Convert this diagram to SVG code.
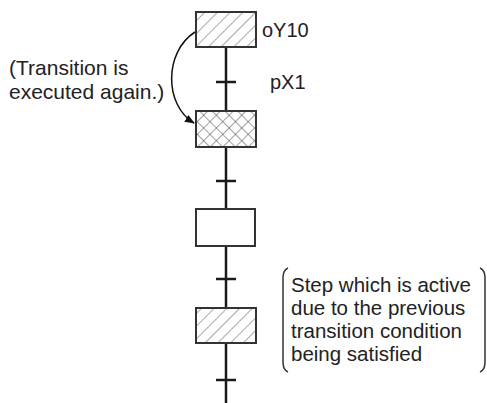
<svg xmlns="http://www.w3.org/2000/svg" width="487" height="403" viewBox="0 0 487 403">
<style>
.step{stroke:#333;stroke-width:2;}
.ln{stroke:#1a1a1a;stroke-width:2.5;fill:none;}
.t{font-family:"Liberation Sans",Arial,sans-serif;font-size:20px;fill:#222;}
.br{stroke:#333;stroke-width:1.5;fill:none;}
</style>
<defs>
<pattern id="hatch" patternUnits="userSpaceOnUse" width="9" height="9" patternTransform="rotate(45)">
<rect width="9" height="9" fill="#fff"/>
<line x1="0" y1="0" x2="0" y2="9" stroke="#555" stroke-width="1"/>
</pattern>
<pattern id="cross" patternUnits="userSpaceOnUse" width="9" height="9" patternTransform="rotate(45)">
<rect width="9" height="9" fill="#fff"/>
<line x1="0" y1="0" x2="0" y2="9" stroke="#444" stroke-width="1"/>
<line x1="0" y1="0" x2="9" y2="0" stroke="#444" stroke-width="1"/>
</pattern>
<marker id="ah" markerWidth="10" markerHeight="10" refX="9" refY="5" orient="auto" markerUnits="userSpaceOnUse">
<path d="M0,1 L10,5 L0,9 Z" fill="#111"/>
</marker>
</defs>
<g id="connectors">
<line class="ln" x1="226" y1="47" x2="226" y2="111"/>
<line class="ln" x1="226" y1="147" x2="226" y2="209"/>
<line class="ln" x1="226" y1="246" x2="226" y2="308"/>
<line class="ln" x1="226" y1="343" x2="226" y2="403"/>
<line class="ln" x1="216" y1="82" x2="236" y2="82"/>
<line class="ln" x1="216" y1="181" x2="236" y2="181"/>
<line class="ln" x1="216" y1="279" x2="236" y2="279"/>
<line class="ln" x1="216" y1="380" x2="236" y2="380"/>
<path d="M195,32 C164,52 164,105 194,123" stroke="#111" stroke-width="1.5" fill="none" marker-end="url(#ah)"/>
</g>
<g id="step1"><rect class="step" x="196" y="12" width="60" height="35" fill="url(#hatch)"/></g>
<g id="step2"><rect class="step" x="196" y="111" width="60" height="36" fill="url(#cross)"/></g>
<g id="step3"><rect class="step" x="196" y="209" width="59" height="37" fill="#fff" stroke="#444"/></g>
<g id="step4"><rect class="step" x="196" y="308" width="60" height="35" fill="url(#hatch)"/></g>
<g id="labels">
<text class="t" x="262" y="37">oY10</text>
<text class="t" x="270" y="89">pX1</text>
<text class="t" x="9" y="75" style="font-size:21px">(Transition is</text>
<text class="t" x="9" y="99" style="font-size:21px">executed again.)</text>
</g>
<g id="note">
<path class="br" d="M288,268 Q283,270 283,278 L283,362 Q283,370 288,372"/>
<path class="br" d="M480,268 Q485,270 485,278 L485,362 Q485,370 480,372"/>
<text class="t" x="291" y="292" style="font-size:20.5px">Step which is active</text>
<text class="t" x="291" y="315" style="font-size:20.5px">due to the previous</text>
<text class="t" x="291" y="338" style="font-size:20.5px">transition condition</text>
<text class="t" x="291" y="361" style="font-size:20.5px">being satisfied</text>
</g>
</svg>
